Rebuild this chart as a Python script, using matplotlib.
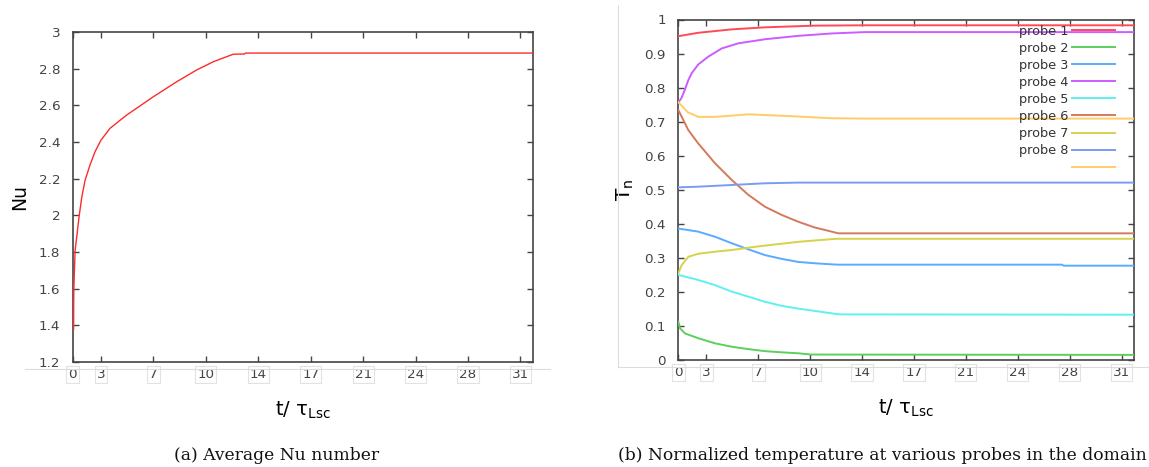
import matplotlib
matplotlib.use("Agg")
import matplotlib.pyplot as plt
from matplotlib.lines import Line2D

# ---------------- data ----------------
# x positions in t/tau units (ticks every 3.45, labels rounded as in the figure)
xtick_pos = [1.59, 3.45, 6.90, 10.35, 13.80, 17.25, 20.70, 24.15, 27.60, 31.05]
xtick_labels = ["0", "3", "7", "10", "14", "17", "21", "24", "28", "31"]
x_min, x_max = 1.59, 31.88

# (a) average Nusselt number
t_nu = [1.65, 1.655, 1.665, 1.69, 1.75, 1.853, 2.005, 2.18, 2.40, 2.73, 3.06, 3.45,
        4.05, 5.14, 6.90, 8.44, 9.75, 10.85, 12.16, 12.90, 12.95, 31.89]
nu = [1.38, 1.53, 1.60, 1.665, 1.81, 1.88, 1.99, 2.095, 2.19, 2.275, 2.347, 2.41,
      2.475, 2.547, 2.647, 2.729, 2.793, 2.838, 2.879, 2.880, 2.885, 2.885]
nu_yticks = [1.2, 1.4, 1.6, 1.8, 2.0, 2.2, 2.4, 2.6, 2.8, 3.0]
nu_ylabels = ["1.2", "1.4", "1.6", "1.8", "2", "2.2", "2.4", "2.6", "2.8", "3"]

# (b) normalized temperature at probes
t_p1 = [1.59, 2.91, 5.13, 7.35, 10.67, 14.0, 31.88]
T_p1 = [0.951, 0.961, 0.971, 0.977, 0.982, 0.983, 0.983]

t_p2 = [1.59, 1.70, 2.03, 2.91, 4.02, 5.13, 6.24, 7.35, 8.46, 9.56, 10.41, 31.88]
T_p2 = [0.112, 0.093, 0.078, 0.064, 0.049, 0.039, 0.032, 0.026, 0.0225, 0.0197, 0.016, 0.015]

t_p3 = [1.59, 2.91, 4.02, 5.13, 6.24, 7.35, 8.46, 9.56, 10.67, 11.78, 12.2, 27.1, 27.2, 31.88]
T_p3 = [0.386, 0.377, 0.362, 0.343, 0.325, 0.308, 0.297, 0.288, 0.284, 0.281, 0.280, 0.280, 0.277, 0.277]

t_p4 = [1.59, 1.80, 2.03, 2.25, 2.47, 2.91, 3.58, 4.47, 5.57, 7.35, 9.56, 11.78, 14.0, 31.88]
T_p4 = [0.756, 0.770, 0.795, 0.822, 0.842, 0.868, 0.891, 0.915, 0.930, 0.942, 0.952, 0.959, 0.963, 0.963]

t_p5 = [1.59, 2.91, 4.02, 5.13, 6.24, 7.35, 8.46, 9.56, 10.67, 11.78, 12.3, 31.88]
T_p5 = [0.250, 0.235, 0.220, 0.201, 0.186, 0.171, 0.159, 0.151, 0.144, 0.137, 0.134, 0.133]

t_p6 = [1.59, 2.25, 2.91, 4.02, 5.13, 6.24, 7.35, 8.46, 9.56, 10.67, 11.78, 12.22, 31.88]
T_p6 = [0.734, 0.675, 0.636, 0.578, 0.529, 0.485, 0.450, 0.426, 0.406, 0.389, 0.377, 0.372, 0.372]

t_p7 = [1.59, 1.81, 2.25, 2.91, 4.02, 5.13, 6.46, 7.35, 9.56, 11.78, 12.2, 31.88]
T_p7 = [0.255, 0.279, 0.303, 0.312, 0.318, 0.323, 0.331, 0.336, 0.347, 0.355, 0.356, 0.356]

t_p8 = [1.59, 2.91, 5.13, 7.35, 9.56, 31.88]
T_p8 = [0.507, 0.509, 0.514, 0.519, 0.521, 0.521]

t_p9 = [1.59, 2.2, 2.91, 4.02, 6.24, 7.35, 9.56, 11.78, 14.0, 31.88]
T_p9 = [0.757, 0.728, 0.714, 0.714, 0.7215, 0.7195, 0.715, 0.710, 0.709, 0.709]

probe_labels = ["probe 1", "probe 2", "probe 3", "probe 4", "probe 5",
                "probe 6", "probe 7", "probe 8", ""]
probe_colors = ["#ff4a55", "#5ccf5c", "#5aaaff", "#cc5cff", "#5ff0f0",
                "#d47a5a", "#d6d24a", "#7a9cf0", "#ffcc66"]
T_yticks = [0, 0.1, 0.2, 0.3, 0.4, 0.5, 0.6, 0.7, 0.8, 0.9, 1.0]
T_ylabels = ["0", "0.1", "0.2", "0.3", "0.4", "0.5", "0.6", "0.7", "0.8", "0.9", "1"]

# ---------------- figure ----------------
W, H = 1149, 467
fig = plt.figure(figsize=(W / 100, H / 100), dpi=100)
plt.rcParams['font.family'] = ['DejaVu Sans']

def px_axes(l, r, t, b):
    return fig.add_axes([l / W, 1 - b / H, (r - l) / W, (b - t) / H])

axA = px_axes(72.7, 533, 32, 362)
axB = px_axes(678.4, 1134, 19.5, 360)

tick_col = "#444444"
lab_col = "#444444"
box = dict(boxstyle="square,pad=0.15", fc="none", ec="#e2e2e2", lw=0.8)

for ax in (axA, axB):
    ax.set_xlim(x_min, x_max)
    ax.set_xticks(xtick_pos)
    ax.set_xticklabels(xtick_labels)
    for lab in ax.get_xticklabels():
        lab.set_bbox(box)
    ax.tick_params(direction="in", top=True, right=True, length=4, width=1,
                   color=tick_col, labelcolor=lab_col, labelsize=9.7)
    ax.tick_params(axis="x", pad=4)
    ax.tick_params(axis="y", pad=9)
    for s in ax.spines.values():
        s.set_color("#444444")
        s.set_linewidth(1.2)

# (a)
axA.plot(t_nu, nu, color="#ff2a2a", lw=1.0, zorder=3)
axA.set_ylim(1.2, 3.0)
axA.set_yticks(nu_yticks)
axA.set_yticklabels(nu_ylabels)
axA.set_ylabel("Nu", fontsize=13.5, labelpad=7)
axA.set_xlabel(r"$\mathregular{t/\ \tau_{Lsc}}$", fontsize=14, labelpad=14)

# (b)
series = [(t_p1, T_p1), (t_p2, T_p2), (t_p3, T_p3), (t_p4, T_p4), (t_p5, T_p5),
          (t_p6, T_p6), (t_p7, T_p7), (t_p8, T_p8), (t_p9, T_p9)]
handles = []
for (tt, TT), c in zip(series, probe_colors):
    h, = axB.plot(tt, TT, color=c, lw=1.4, zorder=3)
    handles.append(h)
axB.set_ylim(0, 1)
axB.set_yticks(T_yticks)
axB.set_yticklabels(T_ylabels)
axB.set_ylabel(r"$\mathregular{T_n}$", fontsize=14.5, labelpad=6)
axB.set_xlabel(r"$\mathregular{t/\ \tau_{Lsc}}$", fontsize=14, labelpad=14)

leg = axB.legend(handles, probe_labels, loc="upper right",
                 bbox_to_anchor=((1115 - 678.4) / (1134 - 678.4), 1 - 5.5 / 340.5),
                 frameon=False, markerfirst=False, fontsize=9.3,
                 handlelength=3.3, handletextpad=0.29, labelspacing=0.31,
                 borderpad=0, borderaxespad=0)
for txt in leg.get_texts():
    txt.set_color("#333333")

# faint screenshot frame lines
line_col = "#dcdcdc"
fig.add_artist(Line2D([25 / W, 550 / W], [1 - 369 / H, 1 - 369 / H], color=line_col, lw=0.8))
fig.add_artist(Line2D([617.5 / W, 1149 / W], [1 - 366.7 / H, 1 - 366.7 / H], color=line_col, lw=0.8))
fig.add_artist(Line2D([617.5 / W, 617.5 / W], [1 - 5 / H, 1 - 366.7 / H], color=line_col, lw=0.8))

# captions
fig.text(277 / W, 1 - 455 / H, "(a) Average Nu number", ha="center", va="center",
         fontsize=12.3, family="DejaVu Serif", color="#111111")
fig.text(882 / W, 1 - 455 / H, "(b) Normalized temperature at various probes in the domain",
         ha="center", va="center", fontsize=12.3, family="DejaVu Serif", color="#111111")

fig.savefig("out.png", dpi=100)
